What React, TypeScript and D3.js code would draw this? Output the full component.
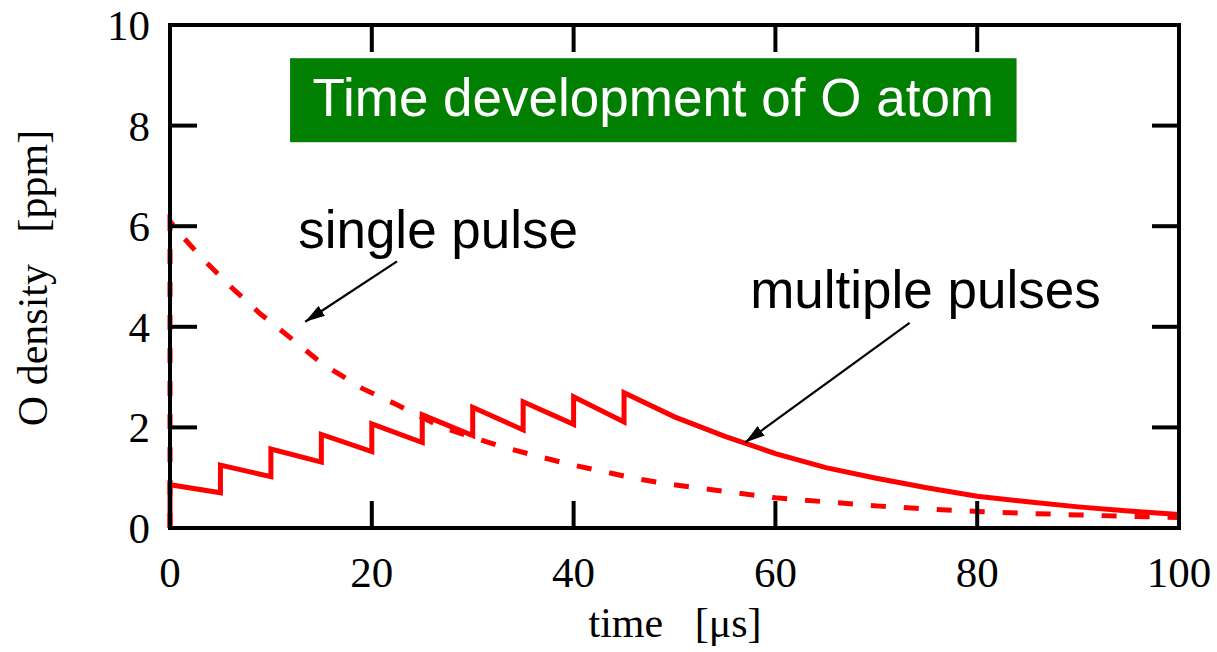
import React, { useEffect, useRef } from 'react';
import * as d3 from 'd3';

// multiple pulses: sawtooth, one pulse every 5 us up to 45 us
const pulseTimes = [0, 5, 10, 15, 20, 25, 30, 35, 40, 45];
const valueBeforePulse = [0, 0.7, 1.02, 1.31, 1.52, 1.7, 1.84, 1.95, 2.06, 2.11];
const valueAfterPulse = [0.86, 1.25, 1.57, 1.86, 2.07, 2.25, 2.4, 2.51, 2.61, 2.69];

// decay after the last pulse
const tailTimes = [50, 55, 60, 65, 70, 75, 80, 85, 90, 95, 100];
const tailValues = [2.21, 1.82, 1.48, 1.2, 0.99, 0.8, 0.63, 0.52, 0.42, 0.34, 0.27];

// single pulse (dashed)
const singleTimes = [0, 0, 1, 3, 6, 9, 12, 15, 19, 22.5, 27, 32.5, 36, 39.5, 43, 46, 49.5, 53, 56, 60, 65, 70, 75, 80, 85, 90, 95, 100];
const singleValues = [0, 6.1, 5.85, 5.4, 4.8, 4.25, 3.77, 3.28, 2.78, 2.45, 2.0, 1.64, 1.45, 1.27, 1.12, 0.99, 0.87, 0.78, 0.7, 0.6, 0.52, 0.44, 0.38, 0.33, 0.29, 0.26, 0.23, 0.21];

const xTicks = [0, 20, 40, 60, 80, 100];
const yTicks = [0, 2, 4, 6, 8, 10];

const App = () => {
  const svgRef = useRef(null);

  useEffect(() => {
    const width = 1217;
    const height = 652;
    const margin = { top: 25, right: 38, bottom: 124, left: 170 };

    const svg = d3.select(svgRef.current)
      .attr("width", width)
      .attr("height", height);
    svg.selectAll("*").remove();

    const x = d3.scaleLinear().domain([0, 100]).range([margin.left, width - margin.right]);
    const y = d3.scaleLinear().domain([0, 10]).range([height - margin.bottom, margin.top]);

    const serif = "'Liberation Serif', 'Times New Roman', serif";
    const sans = "'Liberation Sans', Arial, sans-serif";

    // build the sawtooth + tail
    const multiple = [];
    pulseTimes.forEach((t, i) => {
      multiple.push([t, valueBeforePulse[i]]);
      multiple.push([t, valueAfterPulse[i]]);
    });
    tailTimes.forEach((t, i) => multiple.push([t, tailValues[i]]));

    const single = singleTimes.map((t, i) => [t, singleValues[i]]);

    const line = d3.line()
      .x(d => x(d[0]))
      .y(d => y(d[1]));

    svg.append("path")
      .datum(single)
      .attr("fill", "none")
      .attr("stroke", "#ff0000")
      .attr("stroke-width", 5)
      .attr("stroke-dasharray", "15,18")
      .attr("d", line);

    svg.append("path")
      .datum(multiple)
      .attr("fill", "none")
      .attr("stroke", "#ff0000")
      .attr("stroke-width", 5)
      .attr("stroke-linejoin", "miter")
      .attr("d", line);

    // frame
    svg.append("rect")
      .attr("x", x(0))
      .attr("y", y(10))
      .attr("width", x(100) - x(0))
      .attr("height", y(0) - y(10))
      .attr("fill", "none")
      .attr("stroke", "black")
      .attr("stroke-width", 4);

    // inward ticks on all four sides
    const tickLen = 27;
    const ticks = svg.append("g").attr("stroke", "black").attr("stroke-width", 4);
    xTicks.slice(1, -1).forEach(t => {
      ticks.append("line").attr("x1", x(t)).attr("x2", x(t)).attr("y1", y(0)).attr("y2", y(0) - tickLen);
      ticks.append("line").attr("x1", x(t)).attr("x2", x(t)).attr("y1", y(10)).attr("y2", y(10) + tickLen);
    });
    yTicks.slice(1, -1).forEach(v => {
      ticks.append("line").attr("x1", x(0)).attr("x2", x(0) + tickLen).attr("y1", y(v)).attr("y2", y(v));
      ticks.append("line").attr("x1", x(100)).attr("x2", x(100) - tickLen).attr("y1", y(v)).attr("y2", y(v));
    });

    // tick labels
    svg.append("g").selectAll("text")
      .data(xTicks)
      .join("text")
      .attr("x", d => x(d))
      .attr("y", y(0) + 59)
      .attr("text-anchor", "middle")
      .attr("font-family", serif)
      .attr("font-size", 43)
      .text(d => d);

    svg.append("g").selectAll("text")
      .data(yTicks)
      .join("text")
      .attr("x", x(0) - 20)
      .attr("y", d => y(d) + 15)
      .attr("text-anchor", "end")
      .attr("font-family", serif)
      .attr("font-size", 43)
      .text(d => d);

    // axis titles
    svg.append("text")
      .attr("x", 675)
      .attr("y", 637)
      .attr("text-anchor", "middle")
      .attr("font-family", serif)
      .attr("font-size", 42)
      .style("white-space", "pre")
      .text("time   [\u03bcs]");

    svg.append("text")
      .attr("transform", "translate(47,278) rotate(-90)")
      .attr("text-anchor", "middle")
      .attr("font-family", serif)
      .attr("font-size", 42)
      .style("white-space", "pre")
      .text("O density   [ppm]");

    // title box
    svg.append("rect")
      .attr("x", x(11.9))
      .attr("y", y(9.34))
      .attr("width", x(83.9) - x(11.9))
      .attr("height", y(7.67) - y(9.34))
      .attr("fill", "#007f00");

    svg.append("text")
      .attr("x", x(47.9))
      .attr("y", y(8.2))
      .attr("text-anchor", "middle")
      .attr("font-family", sans)
      .attr("font-size", 53)
      .attr("fill", "white")
      .text("Time development of O atom");

    // annotations
    svg.append("defs").append("marker")
      .attr("id", "arrowhead")
      .attr("viewBox", "0 0 10 6")
      .attr("refX", 10)
      .attr("refY", 3)
      .attr("markerWidth", 9)
      .attr("markerHeight", 5.4)
      .attr("markerUnits", "strokeWidth")
      .attr("orient", "auto")
      .append("path")
      .attr("d", "M0,0 L10,3 L0,6 z")
      .attr("fill", "black");

    const notes = [
      { label: "single pulse", tx: 12.7, ty: 5.57, from: [22.5, 5.3], to: [13.4, 4.1] },
      { label: "multiple pulses", tx: 57.5, ty: 4.37, from: [73.3, 4.08], to: [57.0, 1.7] }
    ];

    notes.forEach(n => {
      svg.append("text")
        .attr("x", x(n.tx))
        .attr("y", y(n.ty))
        .attr("font-family", sans)
        .attr("font-size", 53)
        .attr("fill", "black")
        .text(n.label);
      svg.append("line")
        .attr("x1", x(n.from[0]))
        .attr("y1", y(n.from[1]))
        .attr("x2", x(n.to[0]))
        .attr("y2", y(n.to[1]))
        .attr("stroke", "black")
        .attr("stroke-width", 2.2)
        .attr("marker-end", "url(#arrowhead)");
    });
  }, []);

  return <svg ref={svgRef} style={{ position: 'absolute', left: 0, top: 0, background: 'white' }}></svg>;
};

export default App;
